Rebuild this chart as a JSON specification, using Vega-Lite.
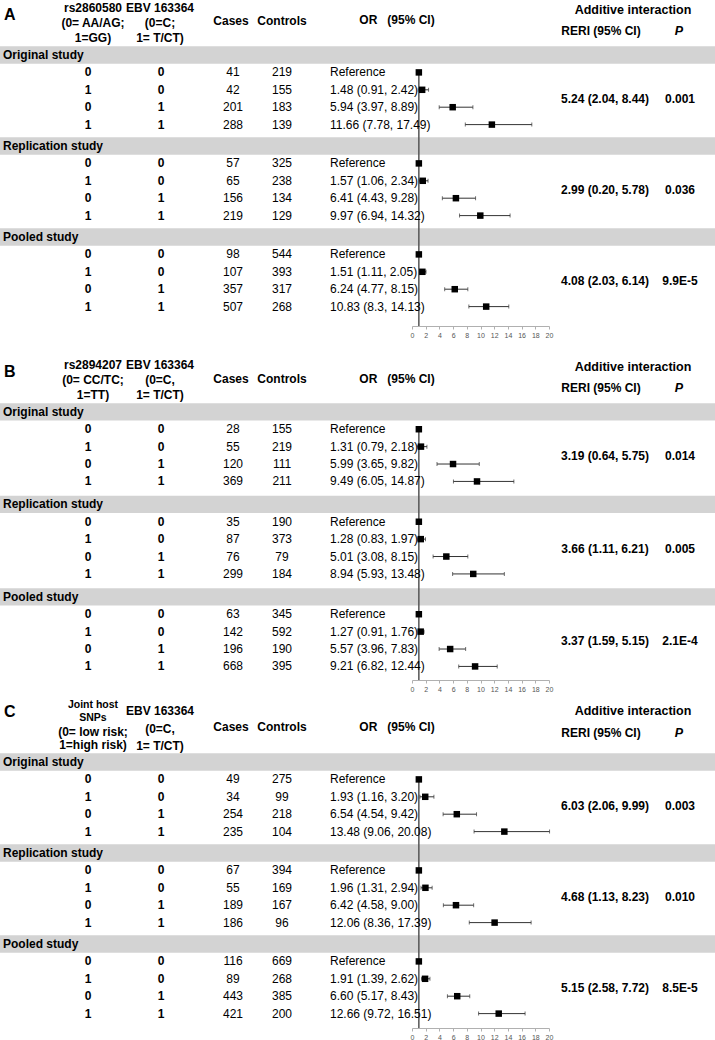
{
  "$schema": "https://vega.github.io/schema/vega-lite/v6.json",
  "padding": 0,
  "bounds": "flush",
  "spacing": 0,
  "background": "white",
  "config": {
    "view": {"stroke": null},
    "font": "Liberation Sans",
    "text": {"font": "Liberation Sans", "fontSize": 12, "color": "black"},
    "axis": {"labelFont": "Liberation Sans"}
  },
  "datasets": {
    "rows": [
      {"panel":"A","section":"Original study","sub":"0-0","g1":"0","g2":"0","cases":41,"controls":219,"ortext":"Reference","or":1,"lo":null,"hi":null},
      {"panel":"A","section":"Original study","sub":"1-0","g1":"1","g2":"0","cases":42,"controls":155,"ortext":"1.48 (0.91, 2.42)","or":1.48,"lo":0.91,"hi":2.42},
      {"panel":"A","section":"Original study","sub":"0-1","g1":"0","g2":"1","cases":201,"controls":183,"ortext":"5.94 (3.97, 8.89)","or":5.94,"lo":3.97,"hi":8.89},
      {"panel":"A","section":"Original study","sub":"1-1","g1":"1","g2":"1","cases":288,"controls":139,"ortext":"11.66 (7.78, 17.49)","or":11.66,"lo":7.78,"hi":17.49},
      {"panel":"A","section":"Replication study","sub":"0-0","g1":"0","g2":"0","cases":57,"controls":325,"ortext":"Reference","or":1,"lo":null,"hi":null},
      {"panel":"A","section":"Replication study","sub":"1-0","g1":"1","g2":"0","cases":65,"controls":238,"ortext":"1.57 (1.06, 2.34)","or":1.57,"lo":1.06,"hi":2.34},
      {"panel":"A","section":"Replication study","sub":"0-1","g1":"0","g2":"1","cases":156,"controls":134,"ortext":"6.41 (4.43, 9.28)","or":6.41,"lo":4.43,"hi":9.28},
      {"panel":"A","section":"Replication study","sub":"1-1","g1":"1","g2":"1","cases":219,"controls":129,"ortext":"9.97 (6.94, 14.32)","or":9.97,"lo":6.94,"hi":14.32},
      {"panel":"A","section":"Pooled study","sub":"0-0","g1":"0","g2":"0","cases":98,"controls":544,"ortext":"Reference","or":1,"lo":null,"hi":null},
      {"panel":"A","section":"Pooled study","sub":"1-0","g1":"1","g2":"0","cases":107,"controls":393,"ortext":"1.51 (1.11, 2.05)","or":1.51,"lo":1.11,"hi":2.05},
      {"panel":"A","section":"Pooled study","sub":"0-1","g1":"0","g2":"1","cases":357,"controls":317,"ortext":"6.24 (4.77, 8.15)","or":6.24,"lo":4.77,"hi":8.15},
      {"panel":"A","section":"Pooled study","sub":"1-1","g1":"1","g2":"1","cases":507,"controls":268,"ortext":"10.83 (8.3, 14.13)","or":10.83,"lo":8.3,"hi":14.13},
      {"panel":"B","section":"Original study","sub":"0-0","g1":"0","g2":"0","cases":28,"controls":155,"ortext":"Reference","or":1,"lo":null,"hi":null},
      {"panel":"B","section":"Original study","sub":"1-0","g1":"1","g2":"0","cases":55,"controls":219,"ortext":"1.31 (0.79, 2.18)","or":1.31,"lo":0.79,"hi":2.18},
      {"panel":"B","section":"Original study","sub":"0-1","g1":"0","g2":"1","cases":120,"controls":111,"ortext":"5.99 (3.65, 9.82)","or":5.99,"lo":3.65,"hi":9.82},
      {"panel":"B","section":"Original study","sub":"1-1","g1":"1","g2":"1","cases":369,"controls":211,"ortext":"9.49 (6.05, 14.87)","or":9.49,"lo":6.05,"hi":14.87},
      {"panel":"B","section":"Replication study","sub":"0-0","g1":"0","g2":"0","cases":35,"controls":190,"ortext":"Reference","or":1,"lo":null,"hi":null},
      {"panel":"B","section":"Replication study","sub":"1-0","g1":"1","g2":"0","cases":87,"controls":373,"ortext":"1.28 (0.83, 1.97)","or":1.28,"lo":0.83,"hi":1.97},
      {"panel":"B","section":"Replication study","sub":"0-1","g1":"0","g2":"1","cases":76,"controls":79,"ortext":"5.01 (3.08, 8.15)","or":5.01,"lo":3.08,"hi":8.15},
      {"panel":"B","section":"Replication study","sub":"1-1","g1":"1","g2":"1","cases":299,"controls":184,"ortext":"8.94 (5.93, 13.48)","or":8.94,"lo":5.93,"hi":13.48},
      {"panel":"B","section":"Pooled study","sub":"0-0","g1":"0","g2":"0","cases":63,"controls":345,"ortext":"Reference","or":1,"lo":null,"hi":null},
      {"panel":"B","section":"Pooled study","sub":"1-0","g1":"1","g2":"0","cases":142,"controls":592,"ortext":"1.27 (0.91, 1.76)","or":1.27,"lo":0.91,"hi":1.76},
      {"panel":"B","section":"Pooled study","sub":"0-1","g1":"0","g2":"1","cases":196,"controls":190,"ortext":"5.57 (3.96, 7.83)","or":5.57,"lo":3.96,"hi":7.83},
      {"panel":"B","section":"Pooled study","sub":"1-1","g1":"1","g2":"1","cases":668,"controls":395,"ortext":"9.21 (6.82, 12.44)","or":9.21,"lo":6.82,"hi":12.44},
      {"panel":"C","section":"Original study","sub":"0-0","g1":"0","g2":"0","cases":49,"controls":275,"ortext":"Reference","or":1,"lo":null,"hi":null},
      {"panel":"C","section":"Original study","sub":"1-0","g1":"1","g2":"0","cases":34,"controls":99,"ortext":"1.93 (1.16, 3.20)","or":1.93,"lo":1.16,"hi":3.2},
      {"panel":"C","section":"Original study","sub":"0-1","g1":"0","g2":"1","cases":254,"controls":218,"ortext":"6.54 (4.54, 9.42)","or":6.54,"lo":4.54,"hi":9.42},
      {"panel":"C","section":"Original study","sub":"1-1","g1":"1","g2":"1","cases":235,"controls":104,"ortext":"13.48 (9.06, 20.08)","or":13.48,"lo":9.06,"hi":20.08},
      {"panel":"C","section":"Replication study","sub":"0-0","g1":"0","g2":"0","cases":67,"controls":394,"ortext":"Reference","or":1,"lo":null,"hi":null},
      {"panel":"C","section":"Replication study","sub":"1-0","g1":"1","g2":"0","cases":55,"controls":169,"ortext":"1.96 (1.31, 2.94)","or":1.96,"lo":1.31,"hi":2.94},
      {"panel":"C","section":"Replication study","sub":"0-1","g1":"0","g2":"1","cases":189,"controls":167,"ortext":"6.42 (4.58, 9.00)","or":6.42,"lo":4.58,"hi":9.0},
      {"panel":"C","section":"Replication study","sub":"1-1","g1":"1","g2":"1","cases":186,"controls":96,"ortext":"12.06 (8.36, 17.39)","or":12.06,"lo":8.36,"hi":17.39},
      {"panel":"C","section":"Pooled study","sub":"0-0","g1":"0","g2":"0","cases":116,"controls":669,"ortext":"Reference","or":1,"lo":null,"hi":null},
      {"panel":"C","section":"Pooled study","sub":"1-0","g1":"1","g2":"0","cases":89,"controls":268,"ortext":"1.91 (1.39, 2.62)","or":1.91,"lo":1.39,"hi":2.62},
      {"panel":"C","section":"Pooled study","sub":"0-1","g1":"0","g2":"1","cases":443,"controls":385,"ortext":"6.60 (5.17, 8.43)","or":6.6,"lo":5.17,"hi":8.43},
      {"panel":"C","section":"Pooled study","sub":"1-1","g1":"1","g2":"1","cases":421,"controls":200,"ortext":"12.66 (9.72, 16.51)","or":12.66,"lo":9.72,"hi":16.51}
    ],
    "sections": [
      {"panel":"A","section":"Original study","sub":"hdr","reri":"5.24 (2.04, 8.44)","p":"0.001"},
      {"panel":"A","section":"Replication study","sub":"hdr","reri":"2.99 (0.20, 5.78)","p":"0.036"},
      {"panel":"A","section":"Pooled study","sub":"hdr","reri":"4.08 (2.03, 6.14)","p":"9.9E-5"},
      {"panel":"B","section":"Original study","sub":"hdr","reri":"3.19 (0.64, 5.75)","p":"0.014"},
      {"panel":"B","section":"Replication study","sub":"hdr","reri":"3.66 (1.11, 6.21)","p":"0.005"},
      {"panel":"B","section":"Pooled study","sub":"hdr","reri":"3.37 (1.59, 5.15)","p":"2.1E-4"},
      {"panel":"C","section":"Original study","sub":"hdr","reri":"6.03 (2.06, 9.99)","p":"0.003"},
      {"panel":"C","section":"Replication study","sub":"hdr","reri":"4.68 (1.13, 8.23)","p":"0.010"},
      {"panel":"C","section":"Pooled study","sub":"hdr","reri":"5.15 (2.58, 7.72)","p":"8.5E-5"}
    ],
    "reference": [
      {"ref": 1, "section": "Original study", "sub": "0-0"}
    ],
    "headers": [
      {"panel":"A","slot":"letter","text":"A"},
      {"panel":"A","slot":"g1","text":"rs2860580\n(0= AA/AG;\n1=GG)"},
      {"panel":"A","slot":"g2","text":"EBV 163364\n(0=C;\n1= T/CT)"},
      {"panel":"B","slot":"letter","text":"B"},
      {"panel":"B","slot":"g1","text":"rs2894207\n(0= CC/TC;\n1=TT)"},
      {"panel":"B","slot":"g2","text":"EBV 163364\n(0=C,\n1= T/CT)"},
      {"panel":"C","slot":"letter","text":"C"},
      {"panel":"C","slot":"g1t","text":"Joint host\nSNPs"},
      {"panel":"C","slot":"g1","text":"(0= low risk;\n1=high risk)"},
      {"panel":"C","slot":"g2","text":"EBV 163364\n(0=C,\n1= T/CT)"},
      {"panel":"all","slot":"cases","text":"Cases"},
      {"panel":"all","slot":"controls","text":"Controls"},
      {"panel":"all","slot":"or","text":"OR\u00a0\u00a0\u00a0(95% CI)"},
      {"panel":"all","slot":"add","text":"Additive interaction"},
      {"panel":"all","slot":"reri","text":"RERI (95% CI)"},
      {"panel":"all","slot":"p","text":"P"}
    ]
  },
  "vconcat": [
    {
      "width": 715, "height": 326,
      "layer": [
        {"data": {"name": "sections"}, "transform": [{"filter": "datum.panel == 'A'"}],
         "mark": {"type": "rect", "color": "#d3d3d3"},
         "encoding": {
           "y": {"field": "section", "type": "nominal", "axis": null, "scale": {"domain": ["Original study","Replication study","Pooled study"], "range": [44.3, 317.3], "paddingInner": 0, "paddingOuter": 0}},
           "yOffset": {"field": "sub", "type": "nominal", "scale": {"domain": ["hdr","0-0","1-0","0-1","1-1"], "paddingInner": 0, "paddingOuter": 0.115}}}},
        {"data": {"name": "reference"}, "mark": {"type": "rule", "color": "#555555", "strokeWidth": 1.5},
         "encoding": {"x": {"field": "ref", "type": "quantitative", "scale": {"domain": [0, 20], "range": [412, 549], "nice": false, "zero": false},
           "axis": {"values": [0,2,4,6,8,10,12,14,16,18,20], "title": null, "grid": false, "domainColor": "#b0b0b0", "tickColor": "#b0b0b0", "tickSize": 3, "labelFontSize": 7, "labelColor": "#555555", "labelPadding": 2, "labelFlush": false, "labelOverlap": false}},
           "y": {"field": "section", "type": "nominal"}, "yOffset": {"field": "sub", "type": "nominal"}, "y2": {"value": "height"}}},
        {"data": {"name": "rows"}, "transform": [{"filter": "datum.panel == 'A' && datum.lo != null"}],
         "mark": {"type": "rule", "color": "#333333", "strokeWidth": 1},
         "encoding": {"x": {"field": "lo", "type": "quantitative"}, "x2": {"field": "hi"}, "y": {"field": "section", "type": "nominal"}, "yOffset": {"field": "sub", "type": "nominal"}}},
        {"data": {"name": "rows"}, "transform": [{"filter": "datum.panel == 'A' && datum.lo != null"}, {"fold": ["lo", "hi"], "as": ["end", "v"]}],
         "mark": {"type": "tick", "color": "#333333", "thickness": 1, "size": 4, "orient": "vertical"},
         "encoding": {"x": {"field": "v", "type": "quantitative"}, "y": {"field": "section", "type": "nominal"}, "yOffset": {"field": "sub", "type": "nominal"}}},
        {"data": {"name": "rows"}, "transform": [{"filter": "datum.panel == 'A'"}],
         "mark": {"type": "square", "color": "black", "filled": true, "opacity": 1, "size": 42},
         "encoding": {"x": {"field": "or", "type": "quantitative"}, "y": {"field": "section", "type": "nominal"}, "yOffset": {"field": "sub", "type": "nominal"}}},
        {"data": {"name": "sections"}, "transform": [{"filter": "datum.panel == 'A'"}],
         "mark": {"type": "text", "align": "left", "fontWeight": "bold"},
         "encoding": {"x": {"value": 3}, "y": {"field": "section", "type": "nominal"}, "yOffset": {"field": "sub", "type": "nominal"}, "text": {"field": "section"}}},
        {"data": {"name": "rows"}, "transform": [{"filter": "datum.panel == 'A'"}],
         "mark": {"type": "text", "fontWeight": "bold"},
         "encoding": {"x": {"value": 88}, "y": {"field": "section", "type": "nominal"}, "yOffset": {"field": "sub", "type": "nominal"}, "text": {"field": "g1"}}},
        {"data": {"name": "rows"}, "transform": [{"filter": "datum.panel == 'A'"}],
         "mark": {"type": "text", "fontWeight": "bold"},
         "encoding": {"x": {"value": 161}, "y": {"field": "section", "type": "nominal"}, "yOffset": {"field": "sub", "type": "nominal"}, "text": {"field": "g2"}}},
        {"data": {"name": "rows"}, "transform": [{"filter": "datum.panel == 'A'"}],
         "mark": {"type": "text"},
         "encoding": {"x": {"value": 233}, "y": {"field": "section", "type": "nominal"}, "yOffset": {"field": "sub", "type": "nominal"}, "text": {"field": "cases"}}},
        {"data": {"name": "rows"}, "transform": [{"filter": "datum.panel == 'A'"}],
         "mark": {"type": "text"},
         "encoding": {"x": {"value": 282}, "y": {"field": "section", "type": "nominal"}, "yOffset": {"field": "sub", "type": "nominal"}, "text": {"field": "controls"}}},
        {"data": {"name": "rows"}, "transform": [{"filter": "datum.panel == 'A'"}],
         "mark": {"type": "text", "align": "left"},
         "encoding": {"x": {"value": 330}, "y": {"field": "section", "type": "nominal"}, "yOffset": {"field": "sub", "type": "nominal"}, "text": {"field": "ortext"}}},
        {"data": {"name": "sections"}, "transform": [{"filter": "datum.panel == 'A'"}],
         "mark": {"type": "text", "fontWeight": "bold", "dy": 43.5},
         "encoding": {"x": {"value": 605}, "y": {"field": "section", "type": "nominal"}, "yOffset": {"field": "sub", "type": "nominal"}, "text": {"field": "reri"}}},
        {"data": {"name": "sections"}, "transform": [{"filter": "datum.panel == 'A'"}],
         "mark": {"type": "text", "fontWeight": "bold", "dy": 43.5},
         "encoding": {"x": {"value": 680}, "y": {"field": "section", "type": "nominal"}, "yOffset": {"field": "sub", "type": "nominal"}, "text": {"field": "p"}}},
        {"data": {"name": "headers"}, "transform": [{"filter": "datum.panel == 'A' && datum.slot == 'letter'"}],
         "mark": {"type": "text", "fontWeight": "bold", "fontSize": 16, "align": "left", "dy": -74.8},
         "encoding": {"x": {"value": 4}, "y": {"datum": "Original study", "type": "nominal"}, "text": {"field": "text"}}},
        {"data": {"name": "headers"}, "transform": [{"filter": "datum.panel == 'A' && datum.slot == 'g1'"}],
         "mark": {"type": "text", "fontWeight": "bold", "lineBreak": "\n", "lineHeight": 15, "dy": -81.8},
         "encoding": {"x": {"value": 93}, "y": {"datum": "Original study", "type": "nominal"}, "text": {"field": "text"}}},
        {"data": {"name": "headers"}, "transform": [{"filter": "datum.panel == 'A' && datum.slot == 'g2'"}],
         "mark": {"type": "text", "fontWeight": "bold", "lineBreak": "\n", "lineHeight": 15, "dy": -81.8},
         "encoding": {"x": {"value": 160}, "y": {"datum": "Original study", "type": "nominal"}, "text": {"field": "text"}}},
        {"data": {"name": "headers"}, "transform": [{"filter": "datum.slot == 'cases'"}],
         "mark": {"type": "text", "fontWeight": "bold", "dy": -68.8},
         "encoding": {"x": {"value": 231}, "y": {"datum": "Original study", "type": "nominal"}, "text": {"field": "text"}}},
        {"data": {"name": "headers"}, "transform": [{"filter": "datum.slot == 'controls'"}],
         "mark": {"type": "text", "fontWeight": "bold", "dy": -68.8},
         "encoding": {"x": {"value": 282}, "y": {"datum": "Original study", "type": "nominal"}, "text": {"field": "text"}}},
        {"data": {"name": "headers"}, "transform": [{"filter": "datum.slot == 'or'"}],
         "mark": {"type": "text", "fontWeight": "bold", "dy": -69.8},
         "encoding": {"x": {"value": 397}, "y": {"datum": "Original study", "type": "nominal"}, "text": {"field": "text"}}},
        {"data": {"name": "headers"}, "transform": [{"filter": "datum.slot == 'add'"}],
         "mark": {"type": "text", "fontWeight": "bold", "fontSize": 12.5, "dy": -79.8},
         "encoding": {"x": {"value": 633}, "y": {"datum": "Original study", "type": "nominal"}, "text": {"field": "text"}}},
        {"data": {"name": "headers"}, "transform": [{"filter": "datum.slot == 'reri'"}],
         "mark": {"type": "text", "fontWeight": "bold", "dy": -58.8},
         "encoding": {"x": {"value": 601}, "y": {"datum": "Original study", "type": "nominal"}, "text": {"field": "text"}}},
        {"data": {"name": "headers"}, "transform": [{"filter": "datum.slot == 'p'"}],
         "mark": {"type": "text", "fontWeight": "bold", "fontStyle": "italic", "fontSize": 12.5, "dy": -58.8},
         "encoding": {"x": {"value": 679}, "y": {"datum": "Original study", "type": "nominal"}, "text": {"field": "text"}}}
      ]
    },
    {
      "width": 715, "height": 354,
      "layer": [
        {"data": {"name": "sections"}, "transform": [{"filter": "datum.panel == 'B'"}],
         "mark": {"type": "rect", "color": "#d3d3d3"},
         "encoding": {
           "y": {"field": "section", "type": "nominal", "axis": null, "scale": {"domain": ["Original study","Replication study","Pooled study"], "range": [75.13, 352.63], "paddingInner": 0, "paddingOuter": 0}},
           "yOffset": {"field": "sub", "type": "nominal", "scale": {"domain": ["hdr","0-0","1-0","0-1","1-1"], "paddingInner": 0, "paddingOuter": 0.115}}}},
        {"data": {"name": "reference"}, "mark": {"type": "rule", "color": "#555555", "strokeWidth": 1.5},
         "encoding": {"x": {"field": "ref", "type": "quantitative", "scale": {"domain": [0, 20], "range": [412, 549], "nice": false, "zero": false},
           "axis": {"values": [0,2,4,6,8,10,12,14,16,18,20], "title": null, "grid": false, "domainColor": "#b0b0b0", "tickColor": "#b0b0b0", "tickSize": 3, "labelFontSize": 7, "labelColor": "#555555", "labelPadding": 2, "labelFlush": false, "labelOverlap": false}},
           "y": {"field": "section", "type": "nominal"}, "yOffset": {"field": "sub", "type": "nominal"}, "y2": {"value": "height"}}},
        {"data": {"name": "rows"}, "transform": [{"filter": "datum.panel == 'B' && datum.lo != null"}],
         "mark": {"type": "rule", "color": "#333333", "strokeWidth": 1},
         "encoding": {"x": {"field": "lo", "type": "quantitative"}, "x2": {"field": "hi"}, "y": {"field": "section", "type": "nominal"}, "yOffset": {"field": "sub", "type": "nominal"}}},
        {"data": {"name": "rows"}, "transform": [{"filter": "datum.panel == 'B' && datum.lo != null"}, {"fold": ["lo", "hi"], "as": ["end", "v"]}],
         "mark": {"type": "tick", "color": "#333333", "thickness": 1, "size": 4, "orient": "vertical"},
         "encoding": {"x": {"field": "v", "type": "quantitative"}, "y": {"field": "section", "type": "nominal"}, "yOffset": {"field": "sub", "type": "nominal"}}},
        {"data": {"name": "rows"}, "transform": [{"filter": "datum.panel == 'B'"}],
         "mark": {"type": "square", "color": "black", "filled": true, "opacity": 1, "size": 42},
         "encoding": {"x": {"field": "or", "type": "quantitative"}, "y": {"field": "section", "type": "nominal"}, "yOffset": {"field": "sub", "type": "nominal"}}},
        {"data": {"name": "sections"}, "transform": [{"filter": "datum.panel == 'B'"}],
         "mark": {"type": "text", "align": "left", "fontWeight": "bold"},
         "encoding": {"x": {"value": 3}, "y": {"field": "section", "type": "nominal"}, "yOffset": {"field": "sub", "type": "nominal"}, "text": {"field": "section"}}},
        {"data": {"name": "rows"}, "transform": [{"filter": "datum.panel == 'B'"}],
         "mark": {"type": "text", "fontWeight": "bold"},
         "encoding": {"x": {"value": 88}, "y": {"field": "section", "type": "nominal"}, "yOffset": {"field": "sub", "type": "nominal"}, "text": {"field": "g1"}}},
        {"data": {"name": "rows"}, "transform": [{"filter": "datum.panel == 'B'"}],
         "mark": {"type": "text", "fontWeight": "bold"},
         "encoding": {"x": {"value": 161}, "y": {"field": "section", "type": "nominal"}, "yOffset": {"field": "sub", "type": "nominal"}, "text": {"field": "g2"}}},
        {"data": {"name": "rows"}, "transform": [{"filter": "datum.panel == 'B'"}],
         "mark": {"type": "text"},
         "encoding": {"x": {"value": 233}, "y": {"field": "section", "type": "nominal"}, "yOffset": {"field": "sub", "type": "nominal"}, "text": {"field": "cases"}}},
        {"data": {"name": "rows"}, "transform": [{"filter": "datum.panel == 'B'"}],
         "mark": {"type": "text"},
         "encoding": {"x": {"value": 282}, "y": {"field": "section", "type": "nominal"}, "yOffset": {"field": "sub", "type": "nominal"}, "text": {"field": "controls"}}},
        {"data": {"name": "rows"}, "transform": [{"filter": "datum.panel == 'B'"}],
         "mark": {"type": "text", "align": "left"},
         "encoding": {"x": {"value": 330}, "y": {"field": "section", "type": "nominal"}, "yOffset": {"field": "sub", "type": "nominal"}, "text": {"field": "ortext"}}},
        {"data": {"name": "sections"}, "transform": [{"filter": "datum.panel == 'B'"}],
         "mark": {"type": "text", "fontWeight": "bold", "dy": 44.2},
         "encoding": {"x": {"value": 605}, "y": {"field": "section", "type": "nominal"}, "yOffset": {"field": "sub", "type": "nominal"}, "text": {"field": "reri"}}},
        {"data": {"name": "sections"}, "transform": [{"filter": "datum.panel == 'B'"}],
         "mark": {"type": "text", "fontWeight": "bold", "dy": 44.2},
         "encoding": {"x": {"value": 680}, "y": {"field": "section", "type": "nominal"}, "yOffset": {"field": "sub", "type": "nominal"}, "text": {"field": "p"}}},
        {"data": {"name": "headers"}, "transform": [{"filter": "datum.panel == 'B' && datum.slot == 'letter'"}],
         "mark": {"type": "text", "fontWeight": "bold", "fontSize": 16, "align": "left", "dy": -75.4},
         "encoding": {"x": {"value": 4}, "y": {"datum": "Original study", "type": "nominal"}, "text": {"field": "text"}}},
        {"data": {"name": "headers"}, "transform": [{"filter": "datum.panel == 'B' && datum.slot == 'g1'"}],
         "mark": {"type": "text", "fontWeight": "bold", "lineBreak": "\n", "lineHeight": 15, "dy": -82.4},
         "encoding": {"x": {"value": 93}, "y": {"datum": "Original study", "type": "nominal"}, "text": {"field": "text"}}},
        {"data": {"name": "headers"}, "transform": [{"filter": "datum.panel == 'B' && datum.slot == 'g2'"}],
         "mark": {"type": "text", "fontWeight": "bold", "lineBreak": "\n", "lineHeight": 15, "dy": -82.4},
         "encoding": {"x": {"value": 160}, "y": {"datum": "Original study", "type": "nominal"}, "text": {"field": "text"}}},
        {"data": {"name": "headers"}, "transform": [{"filter": "datum.slot == 'cases'"}],
         "mark": {"type": "text", "fontWeight": "bold", "dy": -68.4},
         "encoding": {"x": {"value": 231}, "y": {"datum": "Original study", "type": "nominal"}, "text": {"field": "text"}}},
        {"data": {"name": "headers"}, "transform": [{"filter": "datum.slot == 'controls'"}],
         "mark": {"type": "text", "fontWeight": "bold", "dy": -68.4},
         "encoding": {"x": {"value": 282}, "y": {"datum": "Original study", "type": "nominal"}, "text": {"field": "text"}}},
        {"data": {"name": "headers"}, "transform": [{"filter": "datum.slot == 'or'"}],
         "mark": {"type": "text", "fontWeight": "bold", "dy": -68.4},
         "encoding": {"x": {"value": 397}, "y": {"datum": "Original study", "type": "nominal"}, "text": {"field": "text"}}},
        {"data": {"name": "headers"}, "transform": [{"filter": "datum.slot == 'add'"}],
         "mark": {"type": "text", "fontWeight": "bold", "fontSize": 12.5, "dy": -80.4},
         "encoding": {"x": {"value": 633}, "y": {"datum": "Original study", "type": "nominal"}, "text": {"field": "text"}}},
        {"data": {"name": "headers"}, "transform": [{"filter": "datum.slot == 'reri'"}],
         "mark": {"type": "text", "fontWeight": "bold", "dy": -59.4},
         "encoding": {"x": {"value": 601}, "y": {"datum": "Original study", "type": "nominal"}, "text": {"field": "text"}}},
        {"data": {"name": "headers"}, "transform": [{"filter": "datum.slot == 'p'"}],
         "mark": {"type": "text", "fontWeight": "bold", "fontStyle": "italic", "fontSize": 12.5, "dy": -59.4},
         "encoding": {"x": {"value": 679}, "y": {"datum": "Original study", "type": "nominal"}, "text": {"field": "text"}}}
      ]
    },
    {
      "width": 715, "height": 348,
      "layer": [
        {"data": {"name": "sections"}, "transform": [{"filter": "datum.panel == 'C'"}],
         "mark": {"type": "rect", "color": "#d3d3d3"},
         "encoding": {
           "y": {"field": "section", "type": "nominal", "axis": null, "scale": {"domain": ["Original study","Replication study","Pooled study"], "range": [71.3, 344.3], "paddingInner": 0, "paddingOuter": 0}},
           "yOffset": {"field": "sub", "type": "nominal", "scale": {"domain": ["hdr","0-0","1-0","0-1","1-1"], "paddingInner": 0, "paddingOuter": 0.115}}}},
        {"data": {"name": "reference"}, "mark": {"type": "rule", "color": "#555555", "strokeWidth": 1.5},
         "encoding": {"x": {"field": "ref", "type": "quantitative", "scale": {"domain": [0, 20], "range": [412, 549], "nice": false, "zero": false},
           "axis": {"values": [0,2,4,6,8,10,12,14,16,18,20], "title": null, "grid": false, "domainColor": "#b0b0b0", "tickColor": "#b0b0b0", "tickSize": 3, "labelFontSize": 7, "labelColor": "#555555", "labelPadding": 2, "labelFlush": false, "labelOverlap": false}},
           "y": {"field": "section", "type": "nominal"}, "yOffset": {"field": "sub", "type": "nominal"}, "y2": {"value": "height"}}},
        {"data": {"name": "rows"}, "transform": [{"filter": "datum.panel == 'C' && datum.lo != null"}],
         "mark": {"type": "rule", "color": "#333333", "strokeWidth": 1},
         "encoding": {"x": {"field": "lo", "type": "quantitative"}, "x2": {"field": "hi"}, "y": {"field": "section", "type": "nominal"}, "yOffset": {"field": "sub", "type": "nominal"}}},
        {"data": {"name": "rows"}, "transform": [{"filter": "datum.panel == 'C' && datum.lo != null"}, {"fold": ["lo", "hi"], "as": ["end", "v"]}],
         "mark": {"type": "tick", "color": "#333333", "thickness": 1, "size": 4, "orient": "vertical"},
         "encoding": {"x": {"field": "v", "type": "quantitative"}, "y": {"field": "section", "type": "nominal"}, "yOffset": {"field": "sub", "type": "nominal"}}},
        {"data": {"name": "rows"}, "transform": [{"filter": "datum.panel == 'C'"}],
         "mark": {"type": "square", "color": "black", "filled": true, "opacity": 1, "size": 42},
         "encoding": {"x": {"field": "or", "type": "quantitative"}, "y": {"field": "section", "type": "nominal"}, "yOffset": {"field": "sub", "type": "nominal"}}},
        {"data": {"name": "sections"}, "transform": [{"filter": "datum.panel == 'C'"}],
         "mark": {"type": "text", "align": "left", "fontWeight": "bold"},
         "encoding": {"x": {"value": 3}, "y": {"field": "section", "type": "nominal"}, "yOffset": {"field": "sub", "type": "nominal"}, "text": {"field": "section"}}},
        {"data": {"name": "rows"}, "transform": [{"filter": "datum.panel == 'C'"}],
         "mark": {"type": "text", "fontWeight": "bold"},
         "encoding": {"x": {"value": 88}, "y": {"field": "section", "type": "nominal"}, "yOffset": {"field": "sub", "type": "nominal"}, "text": {"field": "g1"}}},
        {"data": {"name": "rows"}, "transform": [{"filter": "datum.panel == 'C'"}],
         "mark": {"type": "text", "fontWeight": "bold"},
         "encoding": {"x": {"value": 161}, "y": {"field": "section", "type": "nominal"}, "yOffset": {"field": "sub", "type": "nominal"}, "text": {"field": "g2"}}},
        {"data": {"name": "rows"}, "transform": [{"filter": "datum.panel == 'C'"}],
         "mark": {"type": "text"},
         "encoding": {"x": {"value": 233}, "y": {"field": "section", "type": "nominal"}, "yOffset": {"field": "sub", "type": "nominal"}, "text": {"field": "cases"}}},
        {"data": {"name": "rows"}, "transform": [{"filter": "datum.panel == 'C'"}],
         "mark": {"type": "text"},
         "encoding": {"x": {"value": 282}, "y": {"field": "section", "type": "nominal"}, "yOffset": {"field": "sub", "type": "nominal"}, "text": {"field": "controls"}}},
        {"data": {"name": "rows"}, "transform": [{"filter": "datum.panel == 'C'"}],
         "mark": {"type": "text", "align": "left"},
         "encoding": {"x": {"value": 330}, "y": {"field": "section", "type": "nominal"}, "yOffset": {"field": "sub", "type": "nominal"}, "text": {"field": "ortext"}}},
        {"data": {"name": "sections"}, "transform": [{"filter": "datum.panel == 'C'"}],
         "mark": {"type": "text", "fontWeight": "bold", "dy": 43.5},
         "encoding": {"x": {"value": 605}, "y": {"field": "section", "type": "nominal"}, "yOffset": {"field": "sub", "type": "nominal"}, "text": {"field": "reri"}}},
        {"data": {"name": "sections"}, "transform": [{"filter": "datum.panel == 'C'"}],
         "mark": {"type": "text", "fontWeight": "bold", "dy": 43.5},
         "encoding": {"x": {"value": 680}, "y": {"field": "section", "type": "nominal"}, "yOffset": {"field": "sub", "type": "nominal"}, "text": {"field": "p"}}},
        {"data": {"name": "headers"}, "transform": [{"filter": "datum.panel == 'C' && datum.slot == 'letter'"}],
         "mark": {"type": "text", "fontWeight": "bold", "fontSize": 16, "align": "left", "dy": -84.8},
         "encoding": {"x": {"value": 4}, "y": {"datum": "Original study", "type": "nominal"}, "text": {"field": "text"}}},
        {"data": {"name": "headers"}, "transform": [{"filter": "datum.panel == 'C' && datum.slot == 'g1t'"}],
         "mark": {"type": "text", "fontWeight": "bold", "fontSize": 10.5, "lineBreak": "\n", "lineHeight": 13, "dy": -91.8},
         "encoding": {"x": {"value": 93}, "y": {"datum": "Original study", "type": "nominal"}, "text": {"field": "text"}}},
        {"data": {"name": "headers"}, "transform": [{"filter": "datum.panel == 'C' && datum.slot == 'g1'"}],
         "mark": {"type": "text", "fontWeight": "bold", "lineBreak": "\n", "lineHeight": 13.5, "dy": -65.3},
         "encoding": {"x": {"value": 93}, "y": {"datum": "Original study", "type": "nominal"}, "text": {"field": "text"}}},
        {"data": {"name": "headers"}, "transform": [{"filter": "datum.panel == 'C' && datum.slot == 'g2'"}],
         "mark": {"type": "text", "fontWeight": "bold", "lineBreak": "\n", "lineHeight": 17.5, "dy": -85.8},
         "encoding": {"x": {"value": 160}, "y": {"datum": "Original study", "type": "nominal"}, "text": {"field": "text"}}},
        {"data": {"name": "headers"}, "transform": [{"filter": "datum.slot == 'cases'"}],
         "mark": {"type": "text", "fontWeight": "bold", "dy": -69.8},
         "encoding": {"x": {"value": 231}, "y": {"datum": "Original study", "type": "nominal"}, "text": {"field": "text"}}},
        {"data": {"name": "headers"}, "transform": [{"filter": "datum.slot == 'controls'"}],
         "mark": {"type": "text", "fontWeight": "bold", "dy": -69.8},
         "encoding": {"x": {"value": 282}, "y": {"datum": "Original study", "type": "nominal"}, "text": {"field": "text"}}},
        {"data": {"name": "headers"}, "transform": [{"filter": "datum.slot == 'or'"}],
         "mark": {"type": "text", "fontWeight": "bold", "dy": -69.8},
         "encoding": {"x": {"value": 397}, "y": {"datum": "Original study", "type": "nominal"}, "text": {"field": "text"}}},
        {"data": {"name": "headers"}, "transform": [{"filter": "datum.slot == 'add'"}],
         "mark": {"type": "text", "fontWeight": "bold", "fontSize": 12.5, "dy": -85.8},
         "encoding": {"x": {"value": 633}, "y": {"datum": "Original study", "type": "nominal"}, "text": {"field": "text"}}},
        {"data": {"name": "headers"}, "transform": [{"filter": "datum.slot == 'reri'"}],
         "mark": {"type": "text", "fontWeight": "bold", "dy": -63.8},
         "encoding": {"x": {"value": 601}, "y": {"datum": "Original study", "type": "nominal"}, "text": {"field": "text"}}},
        {"data": {"name": "headers"}, "transform": [{"filter": "datum.slot == 'p'"}],
         "mark": {"type": "text", "fontWeight": "bold", "fontStyle": "italic", "fontSize": 12.5, "dy": -63.8},
         "encoding": {"x": {"value": 679}, "y": {"datum": "Original study", "type": "nominal"}, "text": {"field": "text"}}}
      ]
    }
  ]
}
